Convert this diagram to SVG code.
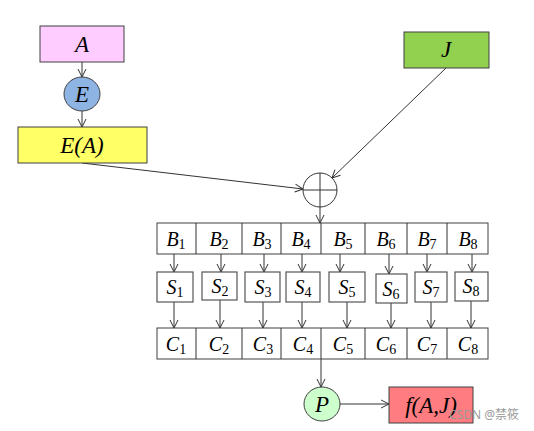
<svg xmlns="http://www.w3.org/2000/svg" width="534" height="431" viewBox="0 0 534 431">
<style>
.box{stroke:#404040;stroke-width:1}
.cell{fill:#fff;stroke:#404040;stroke-width:1}
.sbox{fill:#fff;stroke:#555;stroke-width:1.2}
.ln{fill:none;stroke:#333;stroke-width:1}
.t{font-family:"Liberation Serif",serif;font-style:italic;font-size:23px;fill:#000;text-anchor:middle}
.m{font-family:"Liberation Serif",serif;font-style:italic;font-size:20px;fill:#000;text-anchor:middle}
.sub{font-style:normal;font-size:14px}
</style>
<defs>
<marker id="ah" markerWidth="10" markerHeight="10" refX="9" refY="5" orient="auto" markerUnits="userSpaceOnUse">
<polyline points="1,1 9,5 1,9" fill="none" stroke="#333" stroke-width="1"/>
</marker>
</defs>
<rect width="534" height="431" fill="#fff"/>
<g id="connectors">
<line class="ln" x1="82" y1="62" x2="82" y2="77" marker-end="url(#ah)"/>
<line class="ln" x1="82" y1="111" x2="82" y2="127" marker-end="url(#ah)"/>
<line class="ln" x1="82" y1="163" x2="303" y2="189" marker-end="url(#ah)"/>
<line class="ln" x1="446" y1="68" x2="332" y2="178" marker-end="url(#ah)"/>
<line class="ln" x1="320" y1="207" x2="320" y2="223" marker-end="url(#ah)"/>
<line class="ln" x1="174" y1="254" x2="174" y2="272" marker-end="url(#ah)"/>
<line class="ln" x1="221" y1="254" x2="221" y2="272" marker-end="url(#ah)"/>
<line class="ln" x1="264" y1="254" x2="264" y2="272" marker-end="url(#ah)"/>
<line class="ln" x1="302" y1="254" x2="302" y2="272" marker-end="url(#ah)"/>
<line class="ln" x1="340" y1="254" x2="340" y2="272" marker-end="url(#ah)"/>
<line class="ln" x1="389" y1="254" x2="389" y2="274" marker-end="url(#ah)"/>
<line class="ln" x1="427" y1="254" x2="427" y2="272" marker-end="url(#ah)"/>
<line class="ln" x1="472" y1="254" x2="472" y2="272" marker-end="url(#ah)"/>
<line class="ln" x1="174" y1="302" x2="174" y2="328" marker-end="url(#ah)"/>
<line class="ln" x1="220" y1="300" x2="220" y2="328" marker-end="url(#ah)"/>
<line class="ln" x1="263" y1="302" x2="263" y2="328" marker-end="url(#ah)"/>
<line class="ln" x1="302" y1="302" x2="302" y2="328" marker-end="url(#ah)"/>
<line class="ln" x1="347" y1="302" x2="347" y2="328" marker-end="url(#ah)"/>
<line class="ln" x1="391" y1="303" x2="391" y2="328" marker-end="url(#ah)"/>
<line class="ln" x1="431" y1="302" x2="431" y2="328" marker-end="url(#ah)"/>
<line class="ln" x1="471" y1="301" x2="471" y2="328" marker-end="url(#ah)"/>
<line class="ln" x1="321" y1="359" x2="321" y2="387" marker-end="url(#ah)"/>
<line class="ln" x1="340" y1="404" x2="389" y2="404" marker-end="url(#ah)"/>
</g>
<g id="nodeA"><rect class="box" x="40" y="26" width="84" height="36" fill="#ffccff"/><text class="t" x="82" y="52">A</text></g>
<g id="nodeE"><ellipse class="box" cx="82" cy="94" rx="18" ry="17" fill="#8eb4e3"/><text class="t" x="82" y="102">E</text></g>
<g id="nodeEA"><rect class="box" x="18" y="127" width="129" height="36" fill="#ffff66"/><text class="t" x="82" y="153">E(A)</text></g>
<g id="nodeJ"><rect class="box" x="404" y="32" width="85" height="36" fill="#92d050"/><text class="t" x="446" y="57">J</text></g>
<g id="nodeXOR"><circle cx="320" cy="190" r="17" fill="#fff" stroke="#333" stroke-width="1"/><line class="ln" x1="320" y1="173" x2="320" y2="207"/><line class="ln" x1="303" y1="190" x2="337" y2="190"/></g>
<g id="nodeB">
<rect class="cell" x="157" y="223" width="331" height="31"/>
<path class="ln" d="M196 223V254M242 223V254M281 223V254M321 223V254M365 223V254M407 223V254M447 223V254"/>
<text class="m" x="176" y="246">B<tspan class="sub" dy="3">1</tspan></text>
<text class="m" x="219" y="246">B<tspan class="sub" dy="3">2</tspan></text>
<text class="m" x="262" y="246">B<tspan class="sub" dy="3">3</tspan></text>
<text class="m" x="301" y="246">B<tspan class="sub" dy="3">4</tspan></text>
<text class="m" x="343" y="246">B<tspan class="sub" dy="3">5</tspan></text>
<text class="m" x="386" y="246">B<tspan class="sub" dy="3">6</tspan></text>
<text class="m" x="427" y="246">B<tspan class="sub" dy="3">7</tspan></text>
<text class="m" x="468" y="246">B<tspan class="sub" dy="3">8</tspan></text>
</g>
<g id="nodeS1"><rect class="sbox" x="157" y="272" width="36" height="30"/><text class="m" x="175" y="294">S<tspan class="sub" dy="3">1</tspan></text></g>
<g id="nodeS2"><rect class="sbox" x="202" y="272" width="35" height="28"/><text class="m" x="220" y="293">S<tspan class="sub" dy="3">2</tspan></text></g>
<g id="nodeS3"><rect class="sbox" x="245" y="272" width="35" height="30"/><text class="m" x="263" y="294">S<tspan class="sub" dy="3">3</tspan></text></g>
<g id="nodeS4"><rect class="sbox" x="286" y="272" width="34" height="30"/><text class="m" x="303" y="294">S<tspan class="sub" dy="3">4</tspan></text></g>
<g id="nodeS5"><rect class="sbox" x="329" y="272" width="36" height="30"/><text class="m" x="347" y="294">S<tspan class="sub" dy="3">5</tspan></text></g>
<g id="nodeS6"><rect class="sbox" x="376" y="274" width="31" height="29"/><text class="m" x="391" y="296">S<tspan class="sub" dy="3">6</tspan></text></g>
<g id="nodeS7"><rect class="sbox" x="415" y="272" width="32" height="30"/><text class="m" x="431" y="294">S<tspan class="sub" dy="3">7</tspan></text></g>
<g id="nodeS8"><rect class="sbox" x="455" y="272" width="33" height="29"/><text class="m" x="471" y="293">S<tspan class="sub" dy="3">8</tspan></text></g>
<g id="nodeC">
<rect class="cell" x="157" y="328" width="331" height="31"/>
<path class="ln" d="M196 328V359M242 328V359M281 328V359M321 328V359M365 328V359M407 328V359M447 328V359"/>
<text class="m" x="176" y="351">C<tspan class="sub" dy="3">1</tspan></text>
<text class="m" x="219" y="351">C<tspan class="sub" dy="3">2</tspan></text>
<text class="m" x="263" y="351">C<tspan class="sub" dy="3">3</tspan></text>
<text class="m" x="303" y="351">C<tspan class="sub" dy="3">4</tspan></text>
<text class="m" x="343" y="351">C<tspan class="sub" dy="3">5</tspan></text>
<text class="m" x="386" y="351">C<tspan class="sub" dy="3">6</tspan></text>
<text class="m" x="427" y="351">C<tspan class="sub" dy="3">7</tspan></text>
<text class="m" x="468" y="351">C<tspan class="sub" dy="3">8</tspan></text>
</g>
<g id="nodeP"><ellipse class="box" cx="322" cy="404" rx="18" ry="17" fill="#ccffcc"/><text class="t" x="322" y="412">P</text></g>
<g id="nodeF"><rect class="box" x="389" y="387" width="84" height="36" fill="#ff7c80"/><text class="t" x="431" y="413">f(A,J)</text></g>
<text x="484" y="419" font-family="'Noto Sans','Noto Sans CJK SC',sans-serif" font-size="12" fill="#9a9a9a" text-anchor="middle">CSDN @禁筱</text>
</svg>
